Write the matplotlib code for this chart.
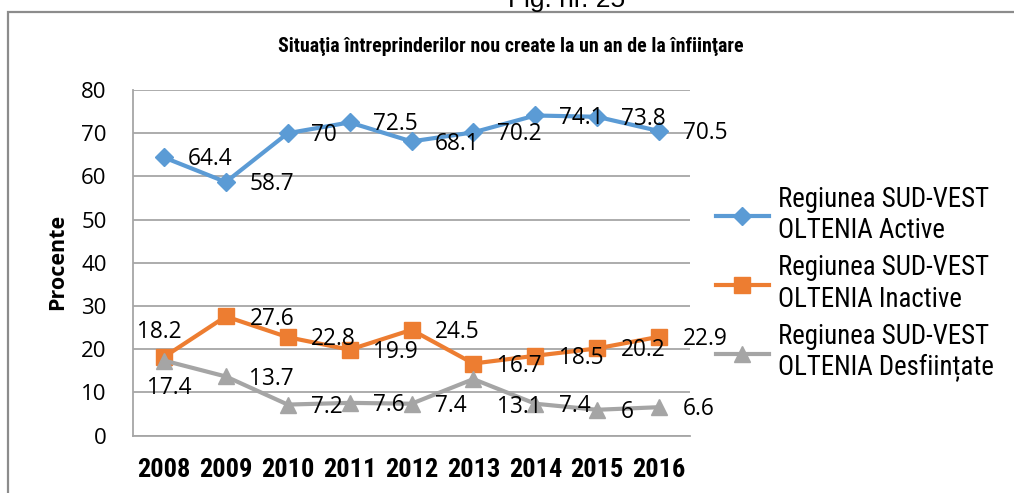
import matplotlib
matplotlib.use("Agg")
import matplotlib.pyplot as plt
from matplotlib import font_manager
from matplotlib.patches import Rectangle

years = ["2008", "2009", "2010", "2011", "2012", "2013", "2014", "2015", "2016"]
active = [64.4, 58.7, 70, 72.5, 68.1, 70.2, 74.1, 73.8, 70.5]
inactive = [18.2, 27.6, 22.8, 19.9, 24.5, 16.7, 18.5, 20.2, 22.9]
closed = [17.4, 13.7, 7.2, 7.6, 7.4, 13.1, 7.4, 6, 6.6]
series_names = ["Regiunea SUD-VEST\nOLTENIA Active",
                "Regiunea SUD-VEST\nOLTENIA Inactive",
                "Regiunea SUD-VEST\nOLTENIA Desființate"]
title = "Situaţia întreprinderilor nou create la un an de la înfiinţare"
ylabel = "Procente"
yticks = [0, 10, 20, 30, 40, 50, 60, 70, 80]

available = {f.name for f in font_manager.fontManager.ttflist}
def pick(*names):
    for n in names:
        if n in available:
            return n
    return "DejaVu Sans"

narrow = pick("Liberation Sans Narrow", "Roboto Condensed", "DejaVu Sans Condensed", "Liberation Sans")
calib = pick("Open Sans", "Noto Sans", "Lato", "DejaVu Sans")
arial = pick("Liberation Sans", "DejaVu Sans")

W, H = 1014, 493
fig = plt.figure(figsize=(W / 100, H / 100), dpi=100)
ax = fig.add_axes([133 / W, 1 - 435.7 / H, (690 - 133) / W, (435.7 - 90) / H])

x = list(range(len(years)))
colors = ["#5B9BD5", "#ED7D31", "#A5A5A5"]
markers = ["D", "s", "^"]
msizes = [9, 11, 11]
data = [active, inactive, closed]
lines = []
for vals, c, m, ms, name in zip(data, colors, markers, msizes, series_names):
    ln, = ax.plot(x, vals, color=c, lw=3, marker=m, markersize=ms,
                  markeredgecolor=c, label=name, zorder=3, clip_on=False)
    lines.append(ln)

# data labels
lab_kw = dict(fontsize=16.3, family=calib, color="black", zorder=4)
for si, vals in enumerate(data):
    for i, v in enumerate(vals):
        txt = f"{v:g}"
        if i == 0 and si == 1:
            ax.annotate(txt, (i, v), xytext=(-3, 18), textcoords="offset points",
                        ha="center", va="center", **lab_kw)
        elif i == 0 and si == 2:
            ax.annotate(txt, (i, v), xytext=(4, -20), textcoords="offset points",
                        ha="center", va="center", **lab_kw)
        elif i == 5 and si == 2:
            ax.annotate(txt, (i, v), xytext=(17, -20), textcoords="offset points",
                        ha="left", va="center", **lab_kw)
        else:
            ax.annotate(txt, (i, v), xytext=(17, -1.5), textcoords="offset points",
                        ha="left", va="center", **lab_kw)

ax.set_xlim(-0.5, len(years) - 0.5)
ax.set_ylim(0, 80)
ax.set_yticks(yticks)
ax.set_yticklabels([str(t) for t in yticks], family=calib, fontsize=16)
ax.set_xticks(x)
ax.set_xticklabels(years, family=narrow, fontsize=19, fontweight="bold")
ax.tick_params(axis="y", length=0, pad=19)
ax.tick_params(axis="x", length=0, pad=16)
ax.grid(axis="y", color="#A6A6A6", lw=1.3)
ax.set_axisbelow(True)
for s in ["top", "right"]:
    ax.spines[s].set_visible(False)
ax.spines["left"].set_color("#A6A6A6")
ax.spines["bottom"].set_color("#A6A6A6")
ax.spines["left"].set_linewidth(1.3)
ax.spines["bottom"].set_linewidth(1.3)

fig.text(58 / W, 1 - 262 / H, ylabel, rotation=90, ha="center", va="center",
         family=calib, fontweight="bold", fontsize=15.5)
fig.text(511 / W, 1 - 46 / H, title, ha="center", va="center",
         family=narrow, fontweight="bold", fontsize=14.3)
fig.text(567 / W, 1 - 7 / H, "Fig. nr. 25", ha="center", va="baseline",
         family=arial, fontsize=19)

fig.patches.append(Rectangle((8 / W, -0.1), 1.2, 1 - 12 / H + 0.1,
                             transform=fig.transFigure, fill=False,
                             edgecolor="#8C8C8C", lw=1.6, clip_on=False))

leg = fig.legend(handles=lines, loc="upper left",
                 bbox_to_anchor=(716 / W, 1 - 186 / H), frameon=False,
                 prop={"family": narrow, "size": 19.4}, handlelength=1.95,
                 handletextpad=0.35, labelspacing=0.38, borderpad=0,
                 borderaxespad=0)

fig.savefig("out.png", dpi=100)
